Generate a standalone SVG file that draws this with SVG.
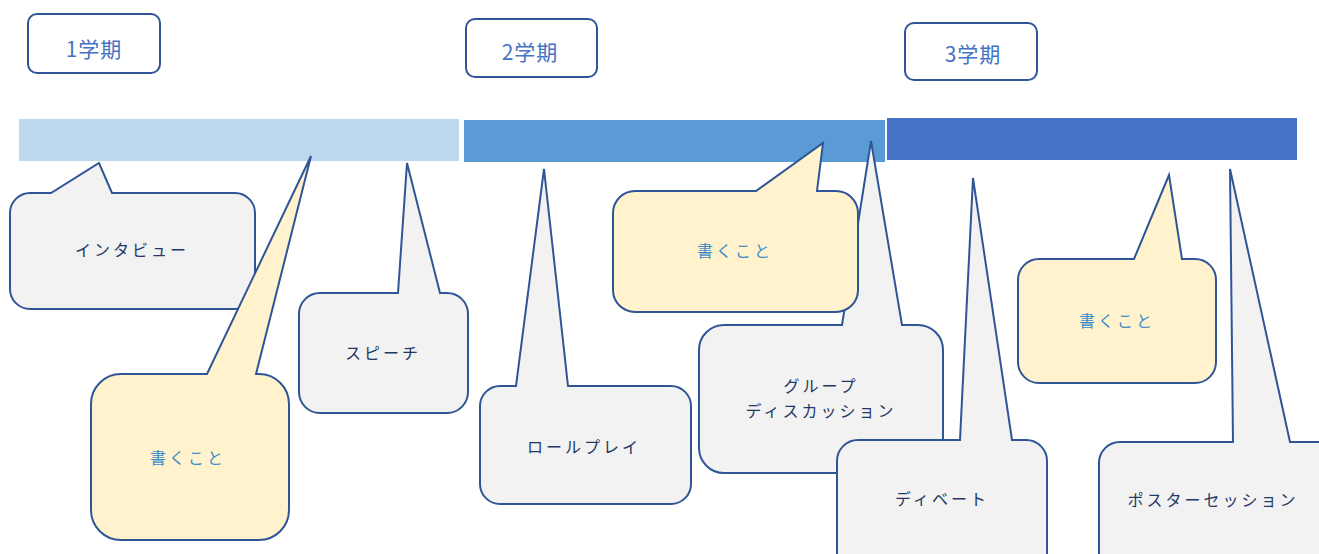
<svg xmlns="http://www.w3.org/2000/svg" width="1319" height="554" viewBox="0 0 1319 554">
<style>
.term{fill:#fff;stroke:#2F5597;stroke-width:2}
.termt{font-family:"Noto Sans CJK JP","Liberation Sans",sans-serif;font-size:21px;fill:#4472C4;text-anchor:middle;dominant-baseline:central;letter-spacing:1px}
.co{fill:#F2F2F2;stroke:#2F5597;stroke-width:2;stroke-linejoin:miter}
.coy{fill:#FFF2CC;stroke:#2F5597;stroke-width:2;stroke-linejoin:miter}
.t{font-family:"Noto Sans CJK JP","Liberation Sans",sans-serif;font-size:16px;fill:#1F3864;text-anchor:middle;dominant-baseline:central;letter-spacing:3px}
.ty{font-family:"Noto Sans CJK JP","Liberation Sans",sans-serif;font-size:16px;fill:#3C8DC9;text-anchor:middle;dominant-baseline:central;letter-spacing:3px}
</style>
<rect width="1319" height="554" fill="#fff"/>
<g id="bars">
<rect x="19" y="119" width="440" height="42" fill="#BDD7EE"/>
<rect x="464" y="120" width="421" height="42" fill="#5B9BD5"/>
<rect x="887" y="118" width="410" height="42" fill="#4472C4"/>
</g>
<g id="term1"><rect class="term" x="28" y="14" width="132" height="59" rx="9"/><text class="termt" x="94" y="48">1学期</text></g>
<g id="term2"><rect class="term" x="466" y="19" width="131" height="58" rx="9"/><text class="termt" x="530" y="51">2学期</text></g>
<g id="term3"><rect class="term" x="905" y="23" width="132" height="57" rx="9"/><text class="termt" x="973" y="53">3学期</text></g>
<g id="connectors"></g>
<g id="interview">
<path class="co" d="M30,193 L51,193 L99,163 L112,193 L235,193 A20,20 0 0 1 255,213 L255,289 A20,20 0 0 1 235,309 L30,309 A20,20 0 0 1 10,289 L10,213 A20,20 0 0 1 30,193 Z"/>
<text class="t" x="132" y="249">インタビュー</text>
</g>
<g id="kaku1">
<path class="coy" d="M121,374 L207,374 L311,156 L256,374 L259,374 A30,30 0 0 1 289,404 L289,510 A30,30 0 0 1 259,540 L121,540 A30,30 0 0 1 91,510 L91,404 A30,30 0 0 1 121,374 Z"/>
<text class="ty" x="188" y="457">書くこと</text>
</g>
<g id="speech">
<path class="co" d="M320,293 L398,293 L407,163 L440,293 L447,293 A21,21 0 0 1 468,314 L468,392 A21,21 0 0 1 447,413 L320,413 A21,21 0 0 1 299,392 L299,314 A21,21 0 0 1 320,293 Z"/>
<text class="t" x="383" y="352">スピーチ</text>
</g>
<g id="roleplay">
<path class="co" d="M500,386 L516,386 L544,169 L568,386 L671,386 A20,20 0 0 1 691,406 L691,484 A20,20 0 0 1 671,504 L500,504 A20,20 0 0 1 480,484 L480,406 A20,20 0 0 1 500,386 Z"/>
<text class="t" x="584" y="446">ロールプレイ</text>
</g>
<g id="group">
<path class="co" d="M724,325 L842,325 L871,141 L902,325 L918,325 A25,25 0 0 1 943,350 L943,448 A25,25 0 0 1 918,473 L724,473 A25,25 0 0 1 699,448 L699,350 A25,25 0 0 1 724,325 Z"/>
<text class="t" x="821" y="385">グループ</text>
<text class="t" x="821" y="410">ディスカッション</text>
</g>
<g id="kaku2">
<path class="coy" d="M635,191 L756,191 L823,143 L817,191 L836,191 A22,22 0 0 1 858,213 L858,290 A22,22 0 0 1 836,312 L635,312 A22,22 0 0 1 613,290 L613,213 A22,22 0 0 1 635,191 Z"/>
<text class="ty" x="735" y="250">書くこと</text>
</g>
<g id="debate">
<path class="co" d="M858,440 L960,440 L973,178 L1012,440 L1026,440 A21,21 0 0 1 1047,461 L1047,580 L837,580 L837,461 A21,21 0 0 1 858,440 Z"/>
<text class="t" x="942" y="498">ディベート</text>
</g>
<g id="kaku3">
<path class="coy" d="M1039,259 L1134,259 L1169,175 L1182,259 L1195,259 A21,21 0 0 1 1216,280 L1216,362 A21,21 0 0 1 1195,383 L1039,383 A21,21 0 0 1 1018,362 L1018,280 A21,21 0 0 1 1039,259 Z"/>
<text class="ty" x="1117" y="320">書くこと</text>
</g>
<g id="poster">
<path class="co" d="M1120,442 L1233,442 L1230,169 L1290,442 L1320,442 A20,20 0 0 1 1340,462 L1340,580 L1099,580 L1099,463 A21,21 0 0 1 1120,442 Z"/>
<text class="t" x="1213" y="499">ポスターセッション</text>
</g>
</svg>
